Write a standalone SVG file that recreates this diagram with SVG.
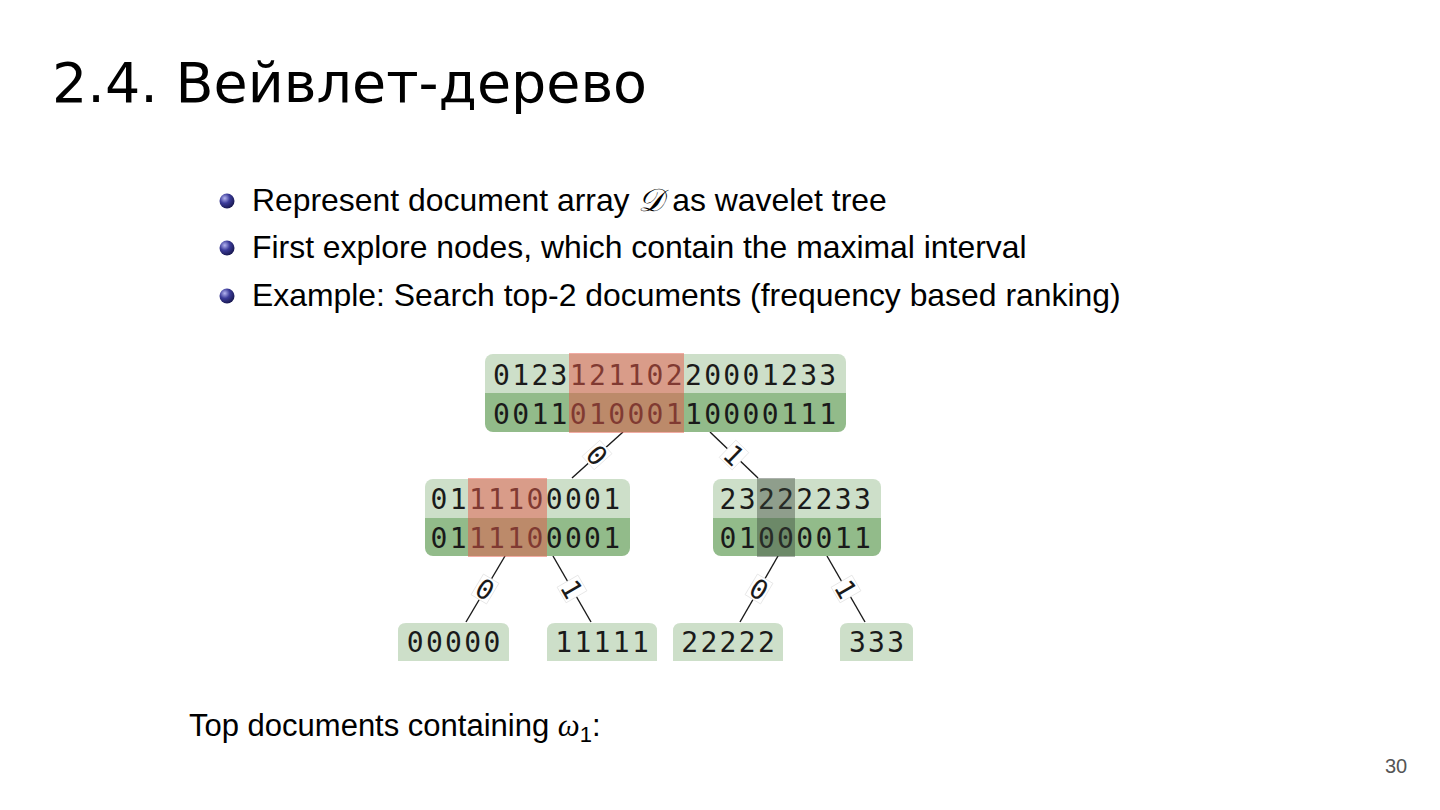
<svg xmlns="http://www.w3.org/2000/svg" width="1440" height="810" viewBox="0 0 1440 810">
<defs>
  <radialGradient id="ball" cx="0.35" cy="0.32" r="0.75">
    <stop offset="0" stop-color="#b4b4f0"/>
    <stop offset="0.45" stop-color="#3c3c9a"/>
    <stop offset="1" stop-color="#141448"/>
  </radialGradient>
  <clipPath id="c-root"><rect x="485" y="354" width="361" height="78" rx="8"/></clipPath>
  <clipPath id="c-left"><rect x="425" y="479" width="205" height="77" rx="8"/></clipPath>
  <clipPath id="c-right"><rect x="713" y="479" width="168" height="77" rx="8"/></clipPath>
</defs>
<style>
  .sans { font-family: "Liberation Sans", Arial, sans-serif; fill: #000; }
  .bul { font-size: 31.9px; }
  .r1 { fill: #cddfc9; }
  .r2 { fill: #92bb8a; }
  .mono { font-family: "DejaVu Sans Mono", "Liberation Mono", monospace; font-size: 28px; letter-spacing: 2.34px; fill: #1a1a1a; }
  .lab { font-family: "DejaVu Sans Mono", "Liberation Mono", monospace; font-size: 27px; fill: #1a1a1a; text-anchor: middle; }
  .hr { fill: #e65a4a; opacity: 0.5; }
  .hg { fill: #3a463a; opacity: 0.42; }
  .edge { stroke: #1a1a1a; stroke-width: 1.4; fill: none; }
  .lbg { fill: #fff; stroke: #e4e4e4; stroke-width: 0.8; }
</style>
<rect width="1440" height="810" fill="#fff"/>

<text x="52" y="102" style="font-family:'DejaVu Sans','Noto Sans',sans-serif;font-size:55.5px;fill:#000">2.4. Вейвлет-дерево</text>

<g id="bullets">
  <circle cx="227" cy="201" r="7.5" fill="url(#ball)"/>
  <circle cx="227" cy="248" r="7.5" fill="url(#ball)"/>
  <circle cx="227" cy="296" r="7.5" fill="url(#ball)"/>
  <text class="sans bul" x="252" y="211">Represent document array <tspan style="font-family:'DejaVu Serif','Liberation Serif',serif;font-style:italic">𝒟</tspan> as wavelet tree</text>
  <text class="sans bul" x="252" y="258">First explore nodes, which contain the maximal interval</text>
  <text class="sans bul" x="252" y="306">Example: Search top-2 documents (frequency based ranking)</text>
</g>

<g id="connectors">
  <line class="edge" x1="623" y1="432" x2="572" y2="478"/>
  <line class="edge" x1="710" y1="432" x2="758" y2="478"/>
  <line class="edge" x1="505" y1="556" x2="466" y2="622"/>
  <line class="edge" x1="553" y1="556" x2="591" y2="622"/>
  <line class="edge" x1="778" y1="556" x2="740" y2="622"/>
  <line class="edge" x1="827" y1="556" x2="865" y2="622"/>
  <g transform="translate(597,455) rotate(48)"><rect class="lbg" x="-9" y="-12" width="18" height="24"/><text class="lab" y="10">0</text></g>
  <g transform="translate(734,455) rotate(44)"><rect class="lbg" x="-9" y="-12" width="18" height="24"/><text class="lab" y="10">1</text></g>
  <g transform="translate(485,589) rotate(31)"><rect class="lbg" x="-9" y="-12" width="18" height="24"/><text class="lab" y="10">0</text></g>
  <g transform="translate(572,589) rotate(60)"><rect class="lbg" x="-9" y="-12" width="18" height="24"/><text class="lab" y="10">1</text></g>
  <g transform="translate(759,589) rotate(31)"><rect class="lbg" x="-9" y="-12" width="18" height="24"/><text class="lab" y="10">0</text></g>
  <g transform="translate(846,589) rotate(60)"><rect class="lbg" x="-9" y="-12" width="18" height="24"/><text class="lab" y="10">1</text></g>
</g>

<g id="node-root">
  <g clip-path="url(#c-root)">
    <rect class="r1" x="485" y="354" width="361" height="39"/>
    <rect class="r2" x="485" y="393" width="361" height="39"/>
  </g>
  <text class="mono" x="493" y="385">012312110220001233</text>
  <text class="mono" x="493" y="424">001101000110000111</text>
  <rect class="hr" x="569" y="353" width="115" height="80"/>
</g>

<g id="node-left">
  <g clip-path="url(#c-left)">
    <rect class="r1" x="425" y="479" width="205" height="39"/>
    <rect class="r2" x="425" y="518" width="205" height="38"/>
  </g>
  <text class="mono" x="430.5" y="509">0111100001</text>
  <text class="mono" x="430.5" y="548">0111100001</text>
  <rect class="hr" x="468" y="478" width="79" height="79"/>
</g>

<g id="node-right">
  <g clip-path="url(#c-right)">
    <rect class="r1" x="713" y="479" width="168" height="39"/>
    <rect class="r2" x="713" y="518" width="168" height="38"/>
  </g>
  <text class="mono" x="719.5" y="509">23222233</text>
  <text class="mono" x="719.5" y="548">01000011</text>
  <rect class="hg" x="757" y="478" width="38" height="79"/>
</g>

<g id="leaf-0">
  <path class="r1" d="M398,661 V631 Q398,623 406,623 H501 Q509,623 509,631 V661 Z"/>
  <text class="mono" x="454.7" y="652" text-anchor="middle">00000</text>
</g>
<g id="leaf-1">
  <path class="r1" d="M547,661 V631 Q547,623 555,623 H649 Q657,623 657,631 V661 Z"/>
  <text class="mono" x="603.2" y="652" text-anchor="middle">11111</text>
</g>
<g id="leaf-2">
  <path class="r1" d="M673,661 V631 Q673,623 681,623 H775 Q783,623 783,631 V661 Z"/>
  <text class="mono" x="729.2" y="652" text-anchor="middle">22222</text>
</g>
<g id="leaf-3">
  <path class="r1" d="M840,661 V631 Q840,623 848,623 H905 Q913,623 913,631 V661 Z"/>
  <text class="mono" x="877.7" y="652" text-anchor="middle">333</text>
</g>

<text class="sans" x="189" y="736" style="font-size:31px">Top documents containing <tspan style="font-family:'Liberation Serif',serif;font-style:italic">ω</tspan><tspan dy="6" style="font-size:22px">1</tspan><tspan dy="-6">:</tspan></text>

<text class="sans" x="1385" y="773" style="font-size:20px;fill:#555">30</text>
</svg>
